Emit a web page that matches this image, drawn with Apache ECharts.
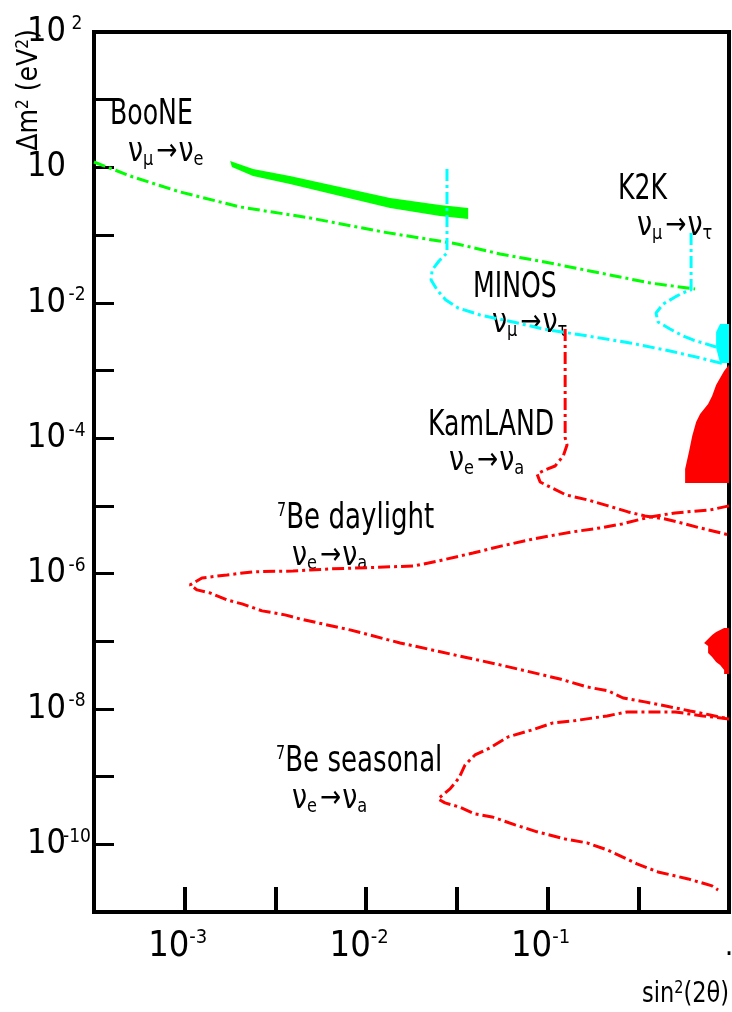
<!DOCTYPE html>
<html>
<head>
<meta charset="utf-8">
<script src="https://cdn.jsdelivr.net/npm/echarts@6/dist/echarts.min.js"></script>
<style>
  html, body { margin: 0; padding: 0; background: #fff; }
  #chart { width: 732px; height: 1012px; }
</style>
</head>
<body>
<div id="chart"></div>
<script>
const FONT = '"Liberation Sans Narrow", "DejaVu Sans Condensed", "Liberation Sans", sans-serif';

// Axis ranges (sin^2(2θ) and Δm² in eV²), decade exponents
const xExpRange = [-3.5, 0];
const yExpRange = [-11, 2];
const xLabelExps = [-3, -2, -1, 0];
const yLabelExps = [2, 0, -2, -4, -6, -8, -10];

// [sin^2(2θ), Δm² (eV²)]
const booneLimit = [[3.16e-4,1.20],[5.19e-4,0.721],[9.42e-4,0.434],[2.02e-3,0.260],[4.91e-3,0.179],[0.0124,0.111],[0.0317,0.0740],[0.0547,0.0526],[0.103,0.0387],[0.195,0.0275],[0.367,0.0196],[0.650,0.0160]];

const lsndBand = [[1.78e-3,1.245],[2.38e-3,0.947],[3.80e-3,0.746],[7.18e-3,0.513],[0.01355,0.353],[0.0255,0.279],[0.0365,0.251],[0.0365,0.173],[0.0255,0.191],[0.01355,0.251],[7.18e-3,0.378],[3.80e-3,0.569],[2.38e-3,0.746],[1.82e-3,1.01]];

const minosLimit = [[0.0279,0.947],[0.0279,0.0544],[0.0252,0.0414],[0.0231,0.0305],[0.0228,0.0217],[0.0246,0.0155],[0.0275,0.0110],[0.0321,8.38e-3],[0.0425,6.60e-3],[0.0646,5.20e-3],[0.0944,4.10e-3],[0.165,3.24e-3],[0.285,2.55e-3],[0.473,1.94e-3],[0.693,1.53e-3],[0.940,1.25e-3]];

const k2kLimit = [[0.618,0.107],[0.618,0.0155],[0.558,0.0140],[0.505,0.0122],[0.434,9.60e-3],[0.396,7.07e-3],[0.406,5.20e-3],[0.473,4.10e-3],[0.558,3.24e-3],[0.634,2.82e-3],[0.719,2.55e-3],[0.849,2.22e-3]];

const atmRegion = [[1,4.86e-3],[0.893,4.86e-3],[0.849,3.71e-3],[0.849,2.15e-3],[0.893,1.29e-3],[1,1.29e-3]];

const kamlandLimit = [[0.125,4.10e-3],[0.125,1.01e-4],[0.128,7.94e-5],[0.122,5.46e-5],[0.110,3.88e-5],[0.0968,3.39e-5],[0.0875,2.96e-5],[0.0910,2.25e-5],[0.103,1.90e-5],[0.1265,1.45e-5],[0.167,1.22e-5],[0.216,9.98e-6],[0.278,8.13e-6],[0.344,7.10e-6],[0.445,6.40e-6],[0.573,5.41e-6],[0.693,4.72e-6],[0.859,4.11e-6],[1,3.72e-6]];

const lmaRegion = [[1,1.21e-3],[0.940,9.84e-4],[0.893,7.75e-4],[0.849,6.10e-4],[0.807,4.20e-4],[0.767,3.20e-4],[0.693,2.28e-4],[0.659,1.73e-4],[0.627,1.08e-4],[0.603,6.47e-5],[0.573,3.51e-5],[0.573,2.18e-5],[1,2.18e-5]];

const lowRegion = [[1,1.57e-7],[0.940,1.57e-7],[0.849,1.37e-7],[0.807,1.24e-7],[0.767,1.08e-7],[0.729,9.44e-8],[0.767,8.53e-8],[0.767,6.72e-8],[0.807,5.86e-8],[0.849,4.94e-8],[0.893,4.47e-8],[0.940,3.77e-8],[0.940,3.29e-8],[1,3.29e-8]];

const be7Daylight = [[1,1.0e-5],[0.787,8.71e-6],[0.505,7.86e-6],[0.367,6.86e-6],[0.258,5.41e-6],[0.195,4.72e-6],[0.136,4.11e-6],[0.0832,3.24e-6],[0.0561,2.56e-6],[0.0388,2.01e-6],[0.0249,1.53e-6],[0.0182,1.29e-6],[6.32e-3,1.17e-6],[3.95e-3,1.09e-6],[2.38e-3,1.06e-6],[1.71e-3,9.53e-7],[1.245e-3,8.61e-7],[1.07e-3,6.79e-7],[1.17e-3,5.73e-7],[1.38e-3,5.17e-7],[1.71e-3,4.07e-7],[2.07e-3,3.56e-7],[2.67e-3,2.81e-7],[3.57e-3,2.45e-7],[4.33e-3,2.13e-7],[8.15e-3,1.47e-7],[0.0154,9.44e-8],[0.0290,6.49e-8],[0.0547,4.47e-8],[0.117,2.77e-8],[0.165,2.11e-8],[0.216,1.85e-8],[0.261,1.45e-8],[0.344,1.27e-8],[0.417,1.15e-8],[0.611,9.34e-9],[0.787,8.15e-9],[1,7.11e-9]];

const be7Seasonal = [[1,7.11e-9],[0.719,7.88e-9],[0.505,9.03e-9],[0.274,9.03e-9],[0.213,7.88e-9],[0.138,6.65e-9],[0.107,6.21e-9],[0.0822,4.90e-9],[0.0606,3.86e-9],[0.0482,2.66e-9],[0.0398,2.09e-9],[0.0351,1.49e-9],[0.0325,9.57e-10],[0.0290,6.58e-10],[0.0249,4.69e-10],[0.0272,4.09e-10],[0.0325,3.57e-10],[0.0398,2.81e-10],[0.0494,2.54e-10],[0.0662,1.94e-10],[0.0875,1.53e-10],[0.125,1.20e-10],[0.165,1.05e-10],[0.213,8.26e-11],[0.258,6.52e-11],[0.311,5.14e-11],[0.406,3.91e-11],[0.596,3.08e-11],[0.807,2.43e-11],[0.871,2.12e-11]];

const GREEN = '#00ff00', CYAN = '#00ffff', RED = '#ff0000';

function curve(name, pts, color) {
  return {
    type: 'line', name, xAxisIndex: 0, yAxisIndex: 0, data: pts,
    showSymbol: false, symbol: 'none', silent: true,
    lineStyle: { color, width: 3, type: [12, 4, 3, 4] }
  };
}

function region(name, pts, color) {
  return {
    type: 'custom', name, xAxisIndex: 0, yAxisIndex: 0, data: pts, silent: true, clip: true,
    encode: { x: 0, y: 1 },
    renderItem: (params, api) => params.dataIndex === 0 ? {
      type: 'polygon',
      shape: { points: pts.map(p => api.coord(p)) },
      style: { fill: color }
    } : null
  };
}

function supText(e) { return e < 0 ? '-' + (-e) : String(e); }

// "ν_a → ν_b" reaction labels
function reaction(x, y, from, to) {
  return {
    type: 'text', x, y, scaleY: 1.1,
    style: {
      text: '{n|ν}{s|' + from + '}{a|→}{n|ν}{s|' + to + '}',
      align: 'left', verticalAlign: 'middle', fill: '#000',
      rich: {
        n: { fontFamily: FONT, fontSize: 30, lineHeight: 32, fill: '#000' },
        s: { fontFamily: FONT, fontSize: 18, lineHeight: 18, verticalAlign: 'bottom', fill: '#000' },
        a: { fontFamily: FONT, fontSize: 28, lineHeight: 32, padding: [0, 1, 0, 3], fill: '#000' }
      }
    }
  };
}

function title(x, y, txt) {
  return {
    type: 'text', x, y, scaleY: 1.25,
    style: { text: txt, fontFamily: FONT, fontSize: 28, align: 'left', verticalAlign: 'middle', fill: '#000' }
  };
}

function be7(x, y, txt) {
  return {
    type: 'text', x, y, scaleY: 1.2,
    style: {
      text: '{p|7}{t|' + txt + '}', align: 'left', verticalAlign: 'middle', fill: '#000',
      rich: {
        p: { fontFamily: FONT, fontSize: 16, lineHeight: 16, verticalAlign: 'top', fill: '#000' },
        t: { fontFamily: FONT, fontSize: 29, lineHeight: 30, fill: '#000' }
      }
    }
  };
}

const chart = echarts.init(document.getElementById('chart'), null, { renderer: 'canvas' });

chart.setOption({
  animation: false,
  backgroundColor: '#fff',
  grid: {
    left: 94, right: 3, top: 32, bottom: 100,
    show: true, borderColor: '#000', borderWidth: 4,
    backgroundColor: 'rgba(0,0,0,0)', containLabel: false, outerBoundsMode: 'none'
  },
  xAxis: [
    { type: 'log', logBase: 10, min: Math.pow(10, xExpRange[0]), max: Math.pow(10, xExpRange[1]), position: 'top', show: false },
    {
      type: 'value', min: xExpRange[0], max: xExpRange[1], interval: 0.5, position: 'bottom',
      axisLine: { show: false }, splitLine: { show: false },
      axisTick: { show: true, inside: true, length: 25, lineStyle: { color: '#000', width: 4 } },
      axisLabel: {
        show: true, margin: 16, showMinLabel: true, showMaxLabel: true, hideOverlap: false,
        formatter: v => {
          if (!xLabelExps.includes(v)) return '';
          if (v === 0) return '{d|.}';
          return '{b|10}{s|' + supText(v) + '}{g| }';
        },
        rich: {
          b: { fontFamily: FONT, fontSize: 36, lineHeight: 38, color: '#000' },
          s: { fontFamily: FONT, fontSize: 20, lineHeight: 20, verticalAlign: 'top', color: '#000' },
          g: { fontSize: 10, width: 14 },
          d: { fontFamily: FONT, fontSize: 30, lineHeight: 38, color: '#000' }
        }
      }
    }
  ],
  yAxis: [
    { type: 'log', logBase: 10, min: Math.pow(10, yExpRange[0]), max: Math.pow(10, yExpRange[1]), position: 'right', show: false },
    {
      type: 'value', min: yExpRange[0], max: yExpRange[1], interval: 1, position: 'left',
      axisLine: { show: false }, splitLine: { show: false },
      axisTick: { show: true, inside: true, length: 20, lineStyle: { color: '#000', width: 3 } },
      axisLabel: {
        show: true, margin: 6, showMinLabel: true, showMaxLabel: true, hideOverlap: false,
        formatter: v => {
          if (!yLabelExps.includes(v)) return '';
          if (v === 0) return '{b|10}{s| }';
          return '{b|10}{s|' + supText(v) + '}';
        },
        rich: {
          b: { fontFamily: FONT, fontSize: 34, lineHeight: 34, color: '#000' },
          s: { fontFamily: FONT, fontSize: 19, lineHeight: 19, verticalAlign: 'top', width: 22, align: 'left', color: '#000' }
        }
      }
    }
  ],
  series: [
    region('LMA', lmaRegion, RED),
    region('LOW', lowRegion, RED),
    region('Atmospheric', atmRegion, CYAN),
    region('LSND', lsndBand, GREEN),
    curve('BooNE', booneLimit, GREEN),
    curve('MINOS', minosLimit, CYAN),
    curve('K2K', k2kLimit, CYAN),
    curve('KamLAND', kamlandLimit, RED),
    curve('7Be daylight', be7Daylight, RED),
    curve('7Be seasonal', be7Seasonal, RED)
  ],
  graphic: [
    {
      type: 'text', x: 30, y: 90, rotation: Math.PI / 2,
      style: {
        text: '{t|Δm}{s|2}{t| (eV}{s|2}{t|)}', align: 'center', verticalAlign: 'middle', fill: '#000',
        rich: {
          t: { fontFamily: FONT, fontSize: 28, lineHeight: 30, fill: '#000' },
          s: { fontFamily: FONT, fontSize: 17, lineHeight: 17, verticalAlign: 'top', fill: '#000' }
        }
      }
    },
    {
      type: 'text', x: 729, y: 995, scaleY: 1.15,
      style: {
        text: '{t|sin}{s|2}{t|(2θ)}', align: 'right', verticalAlign: 'middle', fill: '#000',
        rich: {
          t: { fontFamily: FONT, fontSize: 25, lineHeight: 28, fill: '#000' },
          s: { fontFamily: FONT, fontSize: 16, lineHeight: 16, verticalAlign: 'top', fill: '#000' }
        }
      }
    },
    title(110, 115, 'BooNE'),
    reaction(128, 152, 'μ', 'e'),
    title(618, 190, 'K2K'),
    reaction(637, 226, 'μ', 'τ'),
    title(473, 288, 'MINOS'),
    reaction(492, 323, 'μ', 'τ'),
    title(428, 426, 'KamLAND'),
    reaction(449, 461, 'e', 'a'),
    be7(277, 519, 'Be daylight'),
    reaction(292, 556, 'e', 'a'),
    be7(276, 762, 'Be seasonal'),
    reaction(292, 799, 'e', 'a')
  ]
});
</script>
</body>
</html>
